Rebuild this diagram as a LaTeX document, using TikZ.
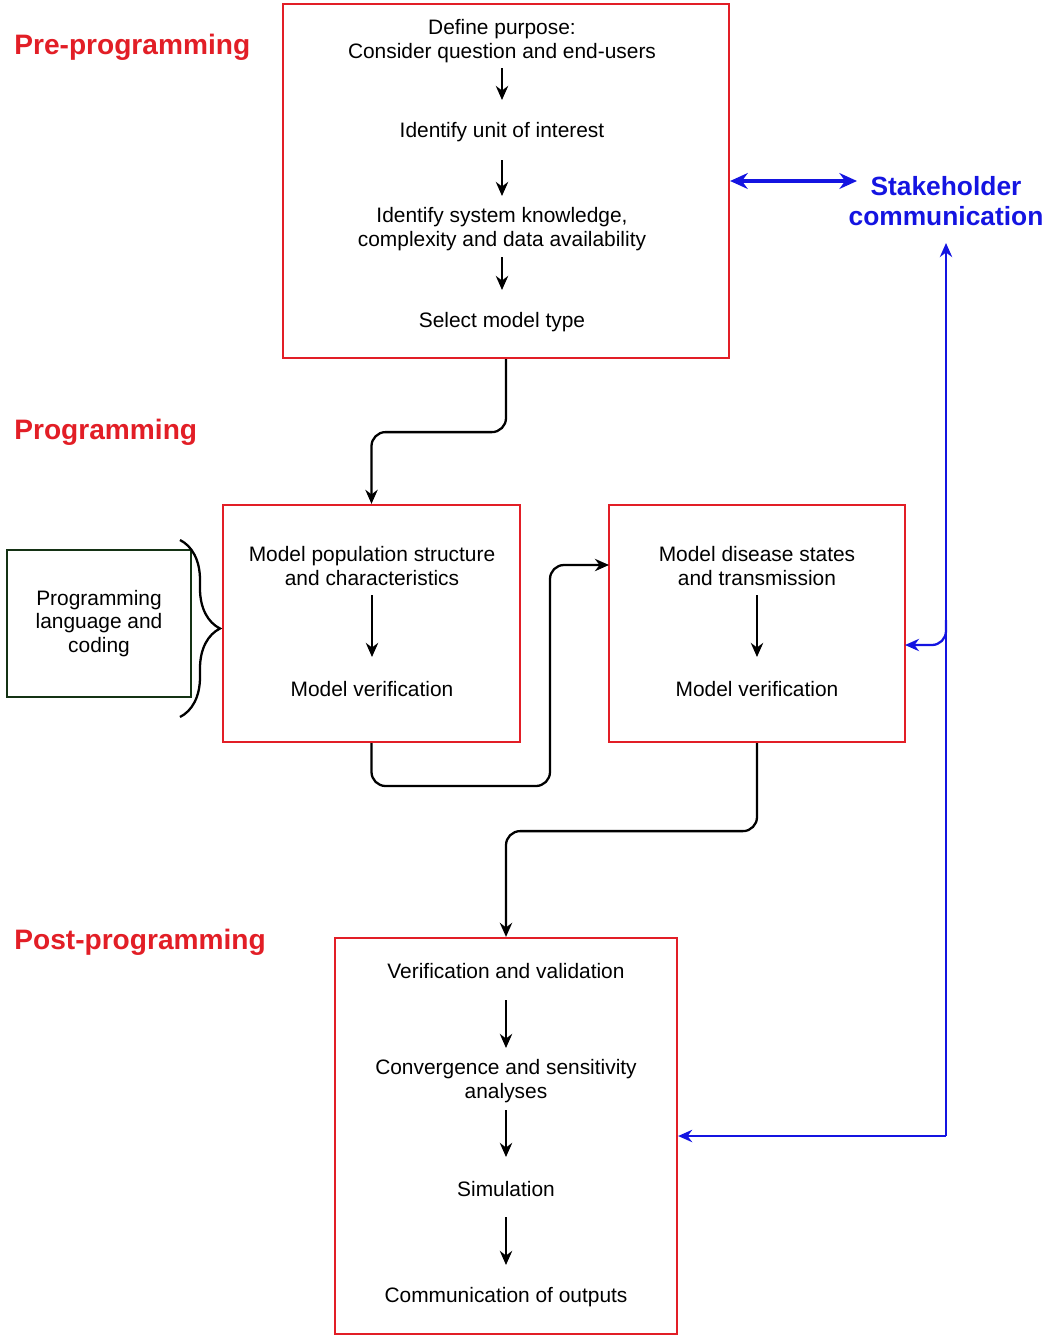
\documentclass[tikz,border=0pt]{standalone}
\usepackage{fontspec}
\setmainfont{Liberation Sans}
\usetikzlibrary{arrows.meta,decorations.pathreplacing,calc}
\definecolor{boxred}{RGB}{226,30,38}
\definecolor{linkblue}{RGB}{20,20,225}
\definecolor{darkgreen}{RGB}{20,50,20}
\tikzset{
  redbox/.style={draw=boxred,line width=1.3pt,inner sep=0pt},
  stage/.style={font=\fontsize{11.9}{13.6}\selectfont,align=center,inner sep=1pt},
  phase/.style={font=\bfseries\fontsize{16}{19}\selectfont,text=boxred,anchor=west,inner sep=0pt},
  flow/.style={-{Stealth[length=8pt,width=7pt]},line width=1.3pt},
  link/.style={-{Stealth[length=8pt,width=7pt]},line width=1.3pt,rounded corners=8pt},
}
\begin{document}
\begin{tikzpicture}[x=0.02cm,y=-0.02cm]
    \useasboundingbox (0,0) rectangle (1045,1339);

    % phases
    \node[phase] (pre-l)  at (14,47)  {Pre-programming};
    \node[phase] (prog-l) at (14,432) {Programming};
    \node[phase] (post-l) at (14,942) {Post-programming};

    % boxes
    \node[redbox,minimum width=8.92cm,minimum height=7.08cm] (pre)  at (506,181) {};
    \node[redbox,minimum width=5.94cm,minimum height=4.74cm] (pop)  at (371.5,623.5) {};
    \node[redbox,minimum width=5.92cm,minimum height=4.74cm] (dis)  at (757,623.5) {};
    \node[redbox,minimum width=6.84cm,minimum height=7.92cm] (post) at (506,1136) {};
    \node[draw=darkgreen,line width=1.1pt,minimum width=3.68cm,minimum height=2.94cm,stage] (lang) at (99,623.5)
      {Programming\\language and\\coding};
    \draw[line width=1.3pt,decorate,decoration={brace,amplitude=0.8cm}] (180,540) -- (180,717);

    % pre-programming steps
    \node[stage] (p1) at (502,41)  {Define purpose:\\Consider question and end-users};
    \node[stage] (p2) at (502,132) {Identify unit of interest};
    \node[stage] (p3) at (502,229) {Identify system knowledge,\\complexity and data availability};
    \node[stage] (p4) at (502,322) {Select model type};
    \draw[flow] (502,68) -- (502,100);
    \draw[flow] (502,160) -- (502,196);
    \draw[flow] (502,257) -- (502,290);

    % programming steps
    \node[stage] (m1) at (372,566) {Model population structure\\and characteristics};
    \node[stage] (m2) at (372,689) {Model verification};
    \node[stage] (d1) at (757,566) {Model disease states\\and transmission};
    \node[stage] (d2) at (757,689) {Model verification};
    \draw[flow] (372,595) -- (372,657);
    \draw[flow] (757,595) -- (757,657);

    % post-programming steps
    \node[stage] (v1) at (506,971)  {Verification and validation};
    \node[stage] (v2) at (506,1081) {Convergence and sensitivity\\analyses};
    \node[stage] (v3) at (506,1189) {Simulation};
    \node[stage] (v4) at (506,1297) {Communication of outputs};
    \draw[flow] (506,1000) -- (506,1048);
    \draw[flow] (506,1110) -- (506,1157);
    \draw[flow] (506,1217) -- (506,1265);

    % stakeholders
    \node[font=\bfseries\fontsize{15}{17}\selectfont,text=linkblue,align=center] (sh) at (946,201)
      {Stakeholder\\communication};

    % connectors
    \draw[link] (pre.south) -- ++(0,73) -| (pop.north);
    \coordinate (dis-in) at (609,565);
    \draw[link] (pop.south) |- (550,786) |- (dis-in);
    \draw[link] (dis.south) -- ++(0,88) -| (post.north);

    \draw[{Stealth[length=10pt,width=9pt]}-{Stealth[length=10pt,width=9pt]},line width=2.2pt,linkblue] (pre.east) -- (857,181);
    \coordinate (sh-in) at (946,243);
    \draw[link,linkblue] (946,1136) -- (post.east);
    \draw[link,linkblue,rounded corners=0pt] (946,1136) -- (sh-in);
    \draw[link,linkblue] (946,620) |- (905,645);
\end{tikzpicture}
\end{document}
